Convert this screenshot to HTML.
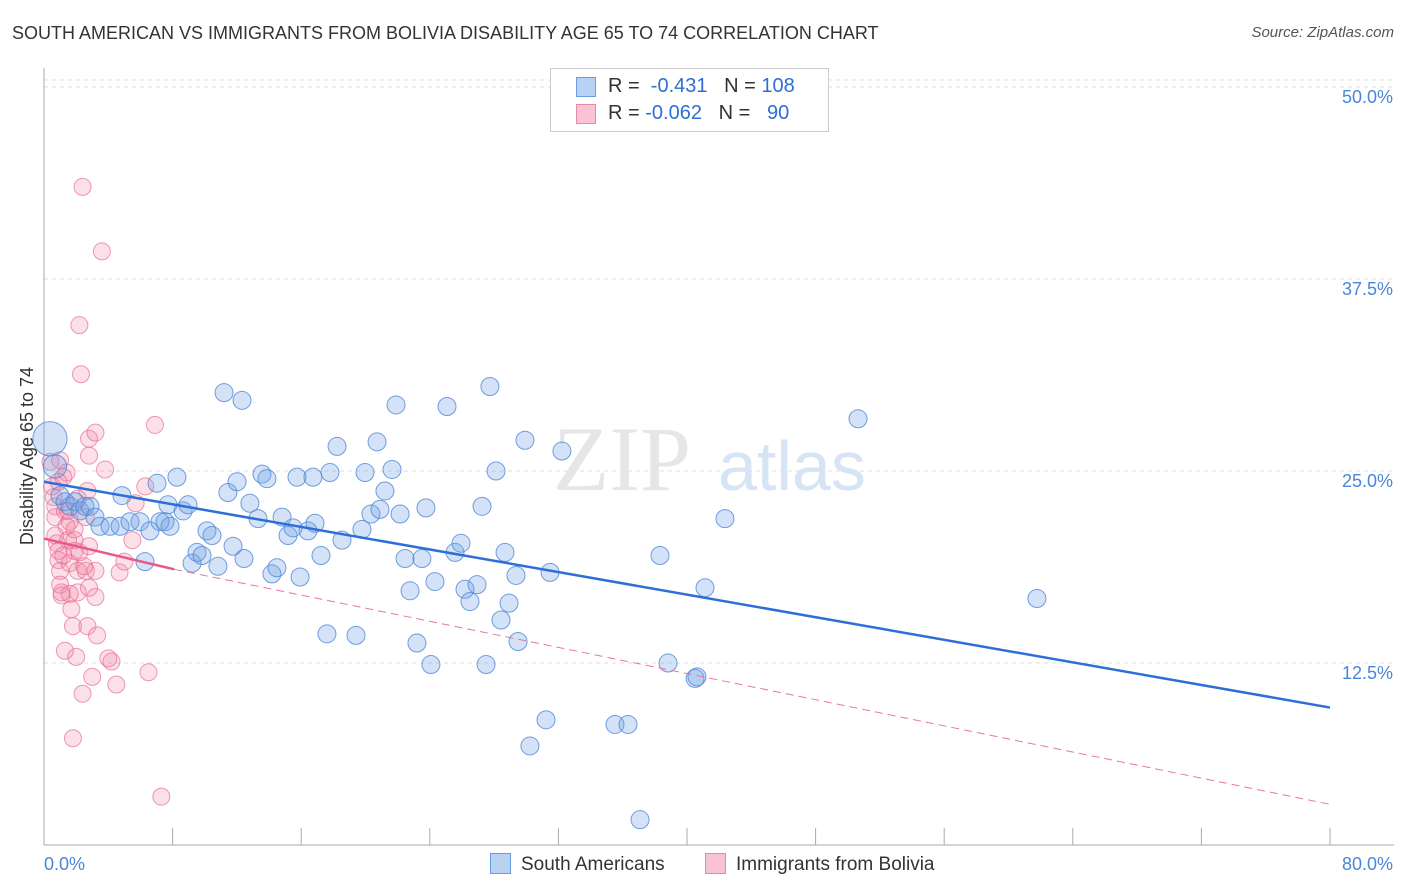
<!DOCTYPE html>
<html><head><meta charset="utf-8"><style>
body{margin:0;background:#fff;font-family:"Liberation Sans",sans-serif;}
#wrap{position:relative;width:1406px;height:892px;overflow:hidden;}
.t{position:absolute;white-space:nowrap;}
</style></head><body>
<div id="wrap">
<div class="t" style="left:12px;top:23px;font-size:18px;color:#333;">SOUTH AMERICAN VS IMMIGRANTS FROM BOLIVIA DISABILITY AGE 65 TO 74 CORRELATION CHART</div>
<div class="t" style="right:12px;top:24px;font-size:15px;color:#555;font-style:italic;">Source: ZipAtlas.com</div>
<svg id="svg" width="1406" height="892" style="position:absolute;left:0;top:0"></svg>
</div>
<script>
const blueX=[0.37,0.68,0.99,1.31,1.62,1.93,2.24,2.55,2.86,3.17,3.48,4.11,4.73,4.85,5.35,5.97,6.28,6.59,7.03,7.22,7.53,7.84,7.71,8.27,8.65,8.96,9.21,9.52,9.83,10.14,10.45,10.82,11.2,11.44,11.76,12.01,12.32,12.44,12.81,13.31,13.56,13.87,14.18,14.49,14.81,15.18,15.49,15.74,15.93,16.42,16.73,16.86,17.23,17.6,17.79,18.23,18.54,19.41,19.78,19.97,20.34,20.72,20.9,21.21,21.65,21.9,22.15,22.46,22.77,23.2,23.51,23.76,24.07,24.32,25.07,25.57,25.94,26.19,26.5,26.94,27.25,27.5,27.74,28.12,28.43,28.68,28.93,29.36,29.49,29.92,30.23,31.23,31.48,32.22,35.52,36.33,37.08,38.32,38.82,40.5,40.62,41.12,42.36,50.64,61.77];
const blueY=[27.1,25.3,23.4,23,22.7,23,22.4,22.7,22.7,22,21.4,21.4,21.4,23.4,21.7,21.7,19.1,21.1,24.2,21.7,21.7,21.4,22.8,24.6,22.4,22.8,19,19.7,19.5,21.1,20.8,18.8,30.1,23.6,20.1,24.3,29.6,19.3,22.9,21.9,24.8,24.5,18.3,18.7,22,20.8,21.3,24.6,18.1,21.1,24.6,21.6,19.5,14.4,24.9,26.6,20.5,14.3,21.2,24.9,22.2,26.9,22.5,23.7,25.1,29.3,22.2,19.3,17.2,13.8,19.3,22.6,12.4,17.8,29.2,19.7,20.3,17.3,16.5,17.6,22.7,12.4,30.5,25,15.3,19.7,16.4,18.2,13.9,27,7.1,8.8,18.4,26.3,8.5,8.5,2.3,19.5,12.5,11.5,11.6,17.4,21.9,28.4,16.7];
const blueR=[19,13,10,10,10,10,10,10,10,10,10,10,10,10,10,10,10,10,10,10,10,10,10,10,10,10,10,10,10,10,10,10,10,10,10,10,10,10,10,10,10,10,10,10,10,10,10,10,10,10,10,10,10,10,10,10,10,10,10,10,10,10,10,10,10,10,10,10,10,10,10,10,10,10,10,10,10,10,10,10,10,10,10,10,10,10,10,10,10,10,10,10,10,10,10,10,10,10,10,10,10,10,10,10,10,10,10];
const pinkX=[0.4,0.5,0.6,0.7,0.7,0.7,0.8,0.9,0.9,1,1,1.1,1.2,1.2,1.3,1.4,1.4,1.5,1.6,1.6,1.7,1.8,1.9,1.9,2,2.1,2.1,2.2,2.3,2.4,2.6,2.6,2.7,2.7,2.8,2.8,2.8,3,3.2,3.2,3.3,3.6,3.8,4,4.2,4.5,4.7,5,5.5,5.7,6.3,6.5,6.9,7.3,1.8,2.4,1.3,1,0.9,1.5,1.9,2.2,2.5,2.8,3.2,1.1,1.6,2.1];
const pinkY=[25.6,24,23.3,22.7,22,20.8,20.3,19.8,19.2,18.5,17.6,16.9,24.6,19.5,22.4,21.4,24.9,20.5,19,17,16,14.9,21.2,19.8,12.9,18.5,17.1,34.5,31.3,43.5,22,18.5,23.7,14.9,27.1,26,20.1,11.6,27.5,18.5,14.3,39.3,25.1,12.8,12.6,11.1,18.4,19.1,20.5,22.9,24,11.9,28,3.8,7.6,10.5,13.3,25.7,24.3,22.4,20.5,19.7,18.8,17.4,16.8,17.1,21.7,23.2];
const xTicks=[0,8,16,24,32,40,48,56,64,72,80];
const yTicks=[12.5,25,37.5,50];
const X=v=>44+v/80*1286, Y=v=>855-v/12.5*192;
const svg=document.getElementById('svg');const NS='http://www.w3.org/2000/svg';
function mk(t,a){const e=document.createElementNS(NS,t);for(const k in a)e.setAttribute(k,a[k]);svg.appendChild(e);return e;}
yTicks.forEach(v=>{const l=mk('line',{x1:44,x2:1394,y1:Y(v),y2:Y(v),stroke:'#ddd','stroke-dasharray':'4,4'});


const t=mk('text',{x:1393,y:Y(v)+16,'text-anchor':'end','font-size':18,fill:'#4a86d8','font-family':'Liberation Sans'});t.textContent=v.toFixed(1)+'%';

});
mk('line',{x1:44,x2:1394,y1:80,y2:80,stroke:'#ddd','stroke-dasharray':'4,4'});
mk('line',{x1:44,x2:44,y1:68,y2:845,stroke:'#aaa'});
mk('line',{x1:44,x2:1394,y1:845,y2:845,stroke:'#aaa'});
xTicks.forEach(v=>{const l=mk('line',{x1:X(v),x2:X(v),y1:828,y2:845,stroke:'#aaa'});

});
[[0,'start','0.0%',44],[80,'end','80.0%',1393]].forEach(a=>{const t=mk('text',{x:a[3],y:870,'text-anchor':a[1],'font-size':18,fill:'#4a86d8','font-family':'Liberation Sans'});t.textContent=a[2];

});
const yt=mk('text',{x:33,y:456,transform:'rotate(-90 33 456)','text-anchor':'middle','font-size':18,fill:'#333','font-family':'Liberation Sans'});yt.textContent='Disability Age 65 to 74';


const w1=mk('text',{x:553,y:490,'font-size':92,fill:'#e6e6e6','font-family':'Liberation Serif'});w1.textContent='ZIP';
const w2=mk('text',{x:718,y:490,'font-size':70,fill:'#d6e4f5','font-family':'Liberation Sans'});w2.textContent='atlas';


pinkX.forEach((x,i)=>{const c=mk('circle',{cx:X(x),cy:Y(pinkY[i]),r:8.5,fill:'rgba(240,130,165,0.25)',stroke:'rgba(232,110,150,0.7)','stroke-width':1});

});
blueX.forEach((x,i)=>{const c=mk('circle',{cx:X(x),cy:Y(blueY[i]),r:blueR[i]*0.9,fill:'rgba(110,160,230,0.3)',stroke:'rgba(80,135,215,0.8)','stroke-width':1});

});
const bl=mk('line',{x1:X(0),y1:Y(24.3),x2:X(80),y2:Y(9.6),stroke:'#2d6fd6','stroke-width':2.5});

const pl=mk('line',{x1:X(0),y1:Y(20.6),x2:X(8.1),y2:Y(18.6),stroke:'#e8588a','stroke-width':2.5});

const pd=mk('line',{x1:X(8.1),y1:Y(18.6),x2:X(80),y2:Y(3.3),stroke:'#e8789e','stroke-width':1,'stroke-dasharray':'8,5'});

</script>
<div class="t" style="left:550px;top:68px;width:277px;height:62px;border:1px solid #ccc;background:#fff;font-size:20px;color:#333;">
<div style="position:absolute;left:25px;top:8px;width:18px;height:18px;background:#b9d2f3;border:1px solid #6a9be0"></div>
<div style="position:absolute;left:57px;top:6px">R = <span style="color:#2d6fd6">&nbsp;-0.431</span>&nbsp;&nbsp;&nbsp;N = <span style="color:#2d6fd6">108</span></div>
<div style="position:absolute;left:25px;top:35px;width:18px;height:18px;background:#f9c3d3;border:1px solid #e889a8"></div>
<div style="position:absolute;left:57px;top:33px">R = <span style="color:#2d6fd6">-0.062</span>&nbsp;&nbsp;&nbsp;N = <span style="color:#2d6fd6">&nbsp;&nbsp;90</span></div>
</div>
<div class="t" style="left:490px;top:853px;font-size:19px;color:#333"><span style="display:inline-block;width:19px;height:19px;background:#b9d2f3;border:1px solid #6a9be0;vertical-align:-4px;margin-right:10px"></span>South Americans</div>
<div class="t" style="left:705px;top:853px;font-size:19px;color:#333"><span style="display:inline-block;width:19px;height:19px;background:#f9c3d3;border:1px solid #e889a8;vertical-align:-4px;margin-right:10px"></span>Immigrants from Bolivia</div>
</body></html>
